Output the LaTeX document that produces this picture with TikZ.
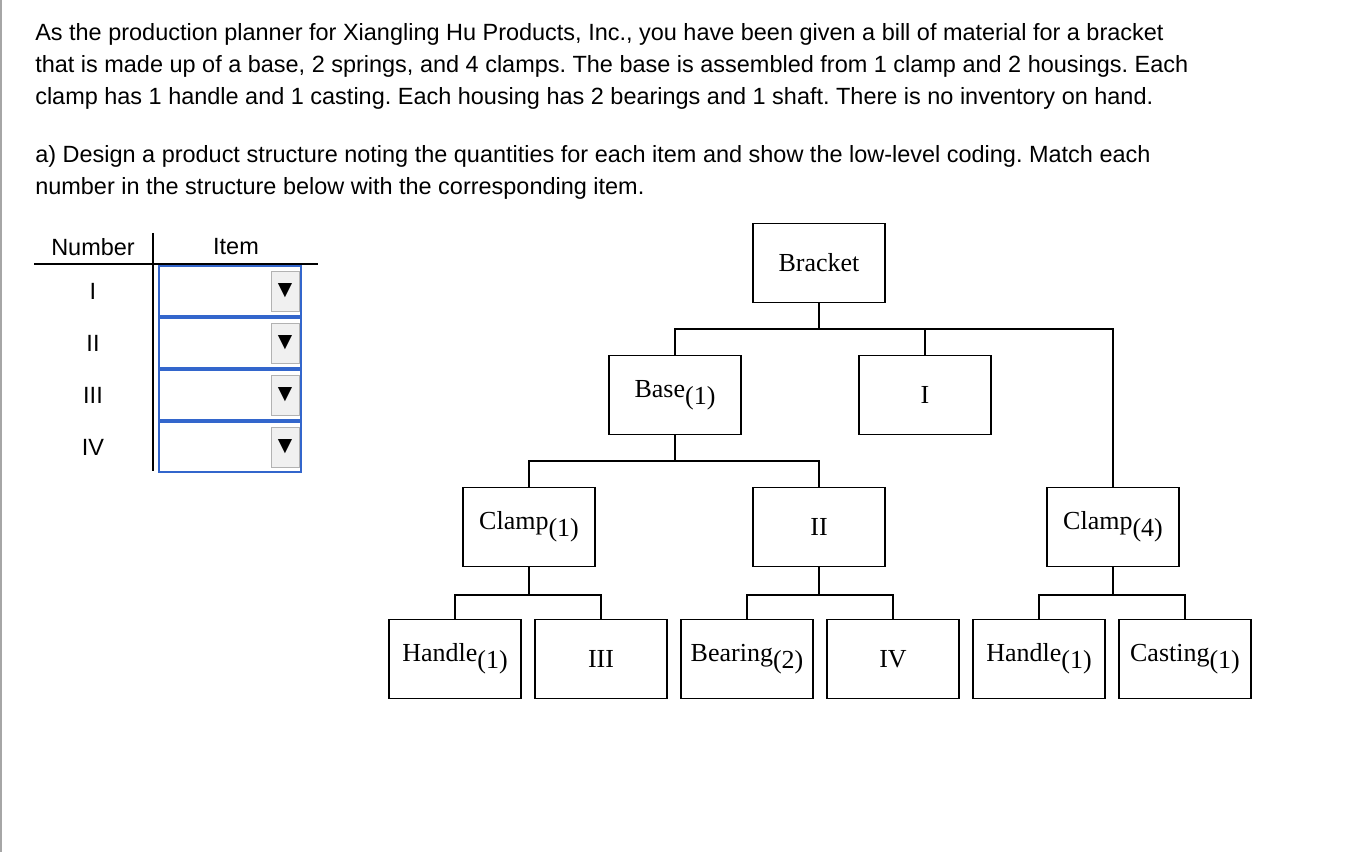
\documentclass[tikz,border=0pt]{standalone}
\usepackage{fontspec}
\setmainfont{Liberation Serif}
\newfontfamily\arialf{Liberation Sans}
\newfontfamily\dejaf{DejaVu Sans}
\definecolor{ddblue}{HTML}{3366CC}
\newcommand{\qsub}[1]{\raisebox{-0.55ex}{#1}}
\frenchspacing
\begin{document}
\begin{tikzpicture}[x=0.75pt,y=-0.75pt,
  bx/.style={draw,line width=0.9pt,minimum width=99pt,minimum height=59pt,inner sep=0pt,font=\fontsize{19.5}{22}\selectfont},
  ln/.style={line width=0.9pt},
  qt/.style={anchor=base west,inner sep=0pt,font=\arialf\fontsize{17.6}{20}\selectfont},
  tt/.style={font=\arialf\fontsize{17.6}{20}\selectfont},
  dd/.style={draw=ddblue,line width=1.5pt,minimum width=106pt,minimum height=37pt,inner sep=0pt},
  btn/.style={fill=gray!12,draw=gray!60,minimum width=21pt,minimum height=30pt,inner sep=0pt,font=\dejaf\fontsize{14}{14}\selectfont}]
\useasboundingbox (0,0) rectangle (1366,852);
\fill[white] (0,0) rectangle (1366,852);
\fill[gray!70] (0,0) rectangle (2,852);
% question text
\node[qt] (t1) at (35,41) {As the production planner for Xiangling Hu Products, Inc., you have been given a bill of material for a bracket};
\node[qt] (t2) at (35,73) {that is made up of a base, 2 springs, and 4 clamps. The base is assembled from 1 clamp and 2 housings. Each};
\node[qt] (t3) at (35,105) {clamp has 1 handle and 1 casting. Each housing has 2 bearings and 1 shaft. There is no inventory on hand.};
\node[qt] (t4) at (35,163) {a) Design a product structure noting the quantities for each item and show the low-level coding. Match each};
\node[qt] (t5) at (35,195) {number in the structure below with the corresponding item.};
% table
\node[tt] (hn) at (93,247) {Number};
\node[tt] (hi) at (236,247) {Item};
\draw[ln,line width=1.5pt] (153,233) -- (153,471);
\draw[ln,line width=1.5pt] (34,264) -- (318,264);
\foreach \y/\lab [count=\i] in {291/I,343/II,395/III,447/IV}{
  \node[tt] (n\i) at (93,\y) {\lab};
  \node[dd] (d\i) at (230,\y) {};
  \node[btn] (b\i) at (285,\y) {▼};
}
% structure
\node[bx] (br) at (819,263) {Bracket};
\node[bx] (ba) at (675,395) {Base\qsub{(1)}};
\node[bx] (i) at (925,395) {I};
\node[bx] (c1) at (529,527) {Clamp\qsub{(1)}};
\node[bx] (ii) at (819,527) {II};
\node[bx] (c4) at (1113,527) {Clamp\qsub{(4)}};
\node[bx] (h1) at (455,659) {Handle\qsub{(1)}};
\node[bx] (iii) at (601,659) {III};
\node[bx] (be) at (747,659) {Bearing\qsub{(2)}};
\node[bx] (iv) at (893,659) {IV};
\node[bx] (h2) at (1039,659) {Handle\qsub{(1)}};
\node[bx] (ca) at (1185,659) {Casting\qsub{(1)}};
\draw[ln] (br.south) -- ++(0,26);
\draw[ln] (ba.north) |- (c4.north |- 0,329) -- (c4.north);
\draw[ln] (i.north) -- (i.north |- 0,329);
\draw[ln] (ba.south) -- ++(0,26);
\draw[ln] (c1.north) |- (ii.north |- 0,461) -- (ii.north);
\draw[ln] (c1.south) -- ++(0,28);
\draw[ln] (h1.north) |- (iii.north |- 0,595) -- (iii.north);
\draw[ln] (ii.south) -- ++(0,28);
\draw[ln] (be.north) |- (iv.north |- 0,595) -- (iv.north);
\draw[ln] (c4.south) -- ++(0,28);
\draw[ln] (h2.north) |- (ca.north |- 0,595) -- (ca.north);
\end{tikzpicture}
\end{document}
